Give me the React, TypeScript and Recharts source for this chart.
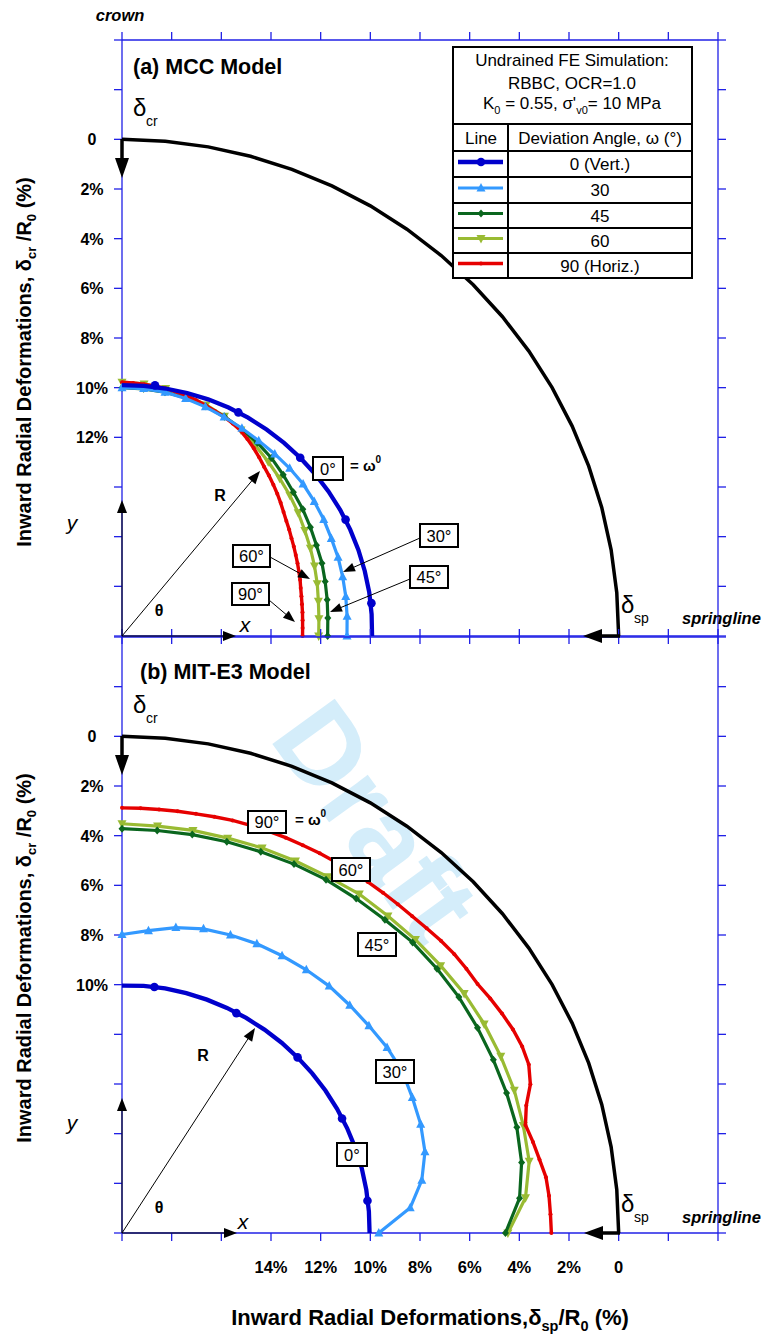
import React from "react"
import { ScatterChart, Scatter, XAxis, YAxis } from "recharts"

// angle round the tunnel quarter, degrees: 0 = springline, 90 = crown
const ANGLES = [0, 5, 10, 15, 20, 25, 30, 35, 40, 45, 50, 55, 60, 65, 70, 75, 80, 85, 90]
const ANGLES_FINE = [
  0, 2.5, 5, 7.5, 10, 12.5, 15, 17.5, 20, 22.5, 25, 27.5, 30, 32.5, 35, 37.5, 40, 42.5, 45,
  47.5, 50, 52.5, 55, 57.5, 60, 62.5, 65, 67.5, 70, 72.5, 75, 77.5, 80, 82.5, 85, 87.5, 90,
]
const MARK_ANGLES = [7.5, 27.5, 45, 62.5, 82.5]

// undeformed tunnel (inward deformation 0)
const UNDEFORMED = [0, 0, 0, 0, 0, 0, 0, 0, 0, 0, 0, 0, 0, 0, 0, 0, 0, 0, 0]

// (a) MCC model - inward radial deformation, % of R0
const MCC_W0 = [9.93, 9.91, 9.89, 9.88, 9.87, 9.86, 9.85, 9.85, 9.85, 9.85, 9.85, 9.85, 9.85, 9.85, 9.86, 9.87, 9.88, 9.89, 9.9]
const MCC_W0_MARKS = [9.87, 9.85, 9.85, 9.85, 9.82]
const MCC_W30 = [10.94, 10.9, 10.85, 10.8, 10.74, 10.7, 10.62, 10.55, 10.48, 10.45, 10.43, 10.4, 10.34, 10.27, 10.18, 10.1, 10.03, 10.0, 10.0]
const MCC_W45 = [11.72, 11.68, 11.61, 11.53, 11.43, 11.36, 11.24, 11.11, 10.99, 10.82, 10.64, 10.5, 10.37, 10.25, 10.15, 10.07, 10.03, 10.01, 10.0]
const MCC_W60 = [12.08, 12.04, 11.97, 11.86, 11.75, 11.63, 11.5, 11.34, 11.18, 11.02, 10.84, 10.63, 10.42, 10.24, 10.1, 9.97, 9.88, 9.81, 9.78]
const MCC_W90 = [
  12.73, 12.72, 12.7, 12.67, 12.64, 12.6, 12.55, 12.48, 12.42, 12.35, 12.28, 12.2, 12.12, 12.02,
  11.92, 11.8, 11.66, 11.52, 11.38, 11.24, 11.1, 10.93, 10.76, 10.6, 10.45, 10.35, 10.27, 10.2,
  10.12, 10.05, 9.98, 9.93, 9.88, 9.85, 9.82, 9.8, 9.78,
]

// (b) MIT-E3 model
const MIT_W0 = [10.03, 10.02, 10.01, 10.0, 10.0, 10.0, 10.0, 10.0, 10.0, 10.0, 10.0, 10.0, 10.0, 10.0, 10.0, 10.0, 10.0, 10.01, 10.04]
const MIT_W0_MARKS = [10.03, 10.01, 10.0, 10.02, 10.01]
const MIT_W30 = [9.66, 8.35, 7.74, 7.37, 7.2, 7.1, 6.97, 6.97, 7.02, 7.03, 7.02, 7.06, 7.11, 7.15, 7.23, 7.32, 7.51, 7.78, 7.98]
const MIT_W45 = [4.56, 3.93, 3.66, 3.54, 3.52, 3.5, 3.47, 3.44, 3.44, 3.45, 3.53, 3.56, 3.57, 3.61, 3.66, 3.69, 3.71, 3.73, 3.72]
const MIT_W60 = [4.46, 3.69, 3.35, 3.27, 3.19, 3.17, 3.16, 3.18, 3.25, 3.29, 3.34, 3.34, 3.43, 3.47, 3.5, 3.54, 3.54, 3.55, 3.52]
const MIT_W90 = [
  2.71, 2.73, 2.74, 2.78, 2.93, 3.05, 3.18, 2.93, 2.5, 2.27, 2.22, 2.25, 2.33, 2.42, 2.52, 2.52,
  2.53, 2.58, 2.65, 2.7, 2.72, 2.73, 2.74, 2.75, 2.76, 2.76, 2.77, 2.77, 2.78, 2.79, 2.8, 2.83,
  2.86, 2.87, 2.88, 2.88, 2.88,
]

const AXIS_TICKS = [-4, -2, 0, 2, 4, 6, 8, 10, 12, 14, 16, 18, 20]
const LEGEND_LABELS = ["0 (Vert.)", "30", "45", "60", "90 (Horiz.)"]

const R0 = 20 // tunnel radius in plot units (the 20 % tick)
const FONT = '"Liberation Sans", Arial, Helvetica, sans-serif'
const AX = "#2020e6"

type Kind = "circle" | "tri" | "diamond" | "triDown" | "dot" | "none"
const STYLES: { color: string; width: number; kind: Kind }[] = [
  { color: "#0000cc", width: 4.3, kind: "circle" },
  { color: "#3399ff", width: 3.2, kind: "tri" },
  { color: "#0a661e", width: 3.2, kind: "diamond" },
  { color: "#99bb33", width: 3.2, kind: "triDown" },
  { color: "#e60000", width: 3.4, kind: "dot" },
]

type Pt = { x: number; y: number; mk: boolean }

function toPoints(angles: number[], defl: number[], mk: boolean): Pt[] {
  return angles.map((a, i) => {
    const r = R0 - defl[i]
    const t = (a * Math.PI) / 180
    return { x: R0 - r * Math.cos(t), y: R0 - r * Math.sin(t), mk }
  })
}

function marker(kind: Kind, cx: number, cy: number, color: string) {
  switch (kind) {
    case "circle":
      return <circle cx={cx} cy={cy} r={4.3} fill={color} />
    case "tri":
      return <path d={`M${cx},${cy - 5}L${cx + 4.5},${cy + 3.5}L${cx - 4.5},${cy + 3.5}Z`} fill={color} />
    case "triDown":
      return <path d={`M${cx},${cy + 5}L${cx + 4.5},${cy - 3.5}L${cx - 4.5},${cy - 3.5}Z`} fill={color} />
    case "diamond":
      return <path d={`M${cx},${cy - 4}L${cx + 3.5},${cy}L${cx},${cy + 4}L${cx - 3.5},${cy}Z`} fill={color} />
    case "dot":
      return <circle cx={cx} cy={cy} r={2} fill={color} />
    default:
      return <g />
  }
}

type Curve = { pts: Pt[]; color: string; width: number; kind: Kind; line: boolean }

function buildCurves(w0: number[], w0m: number[], w30: number[], w45: number[], w60: number[], w90: number[]): Curve[] {
  const [s0, s30, s45, s60, s90] = STYLES
  return [
    { pts: toPoints(ANGLES, UNDEFORMED, false), color: "#000", width: 3.5, kind: "none", line: true },
    { pts: toPoints(ANGLES, w60, true), ...s60, line: true },
    { pts: toPoints(ANGLES, w45, true), ...s45, line: true },
    { pts: toPoints(ANGLES_FINE, w90, true), ...s90, line: true },
    { pts: toPoints(ANGLES, w30, true), ...s30, line: true },
    { pts: toPoints(ANGLES, w0, false), ...s0, line: true },
    { pts: toPoints(MARK_ANGLES, w0m, true), ...s0, line: false },
  ]
}

const noTick = () => <g />

const leftTick = (max: number) => (p: any) => {
  const v = p.payload.value
  if (v < 0 || v > max) return <g />
  return (
    <text x={92} y={p.y + 6} textAnchor="middle" fontFamily={FONT} fontWeight="bold" fontSize={16} fill="#000">
      {v === 0 ? "0" : `${v}%`}
    </text>
  )
}

const bottomTick = (show: boolean) => (p: any) => {
  const v = p.payload.value
  if (!show || v < 0 || v > 14) return <g />
  return (
    <text x={p.x} y={p.y + 32} textAnchor="middle" fontFamily={FONT} fontWeight="bold" fontSize={16.5} fill="#000">
      {v === 0 ? "0" : `${v}%`}
    </text>
  )
}

function Panel({ top, height, mTop, mBottom, curves, maxLeft, bottomLabels }: {
  top: number; height: number; mTop: number; mBottom: number; curves: Curve[]; maxLeft: number; bottomLabels: boolean
}) {
  const axisProps = {
    type: "number" as const,
    domain: [-4, 20],
    reversed: true,
    ticks: AXIS_TICKS,
    interval: 0 as const,
    axisLine: { stroke: AX, strokeWidth: 1.3 },
    tickLine: { stroke: AX, strokeWidth: 1.3 },
    tickSize: 8,
    tickMargin: 0,
  }
  return (
    <div style={{ position: "absolute", left: 0, top }}>
      <ScatterChart width={766} height={height} margin={{ top: mTop, right: 38, bottom: mBottom, left: 112 }}>
        <XAxis xAxisId="b" dataKey="x" orientation="bottom" height={10} {...axisProps} tick={bottomTick(bottomLabels)} />
        <XAxis xAxisId="t" dataKey="x" orientation="top" height={10} {...axisProps} tick={noTick} />
        <YAxis yAxisId="l" dataKey="y" orientation="left" width={10} {...axisProps} tick={leftTick(maxLeft)} />
        <YAxis yAxisId="r" dataKey="y" orientation="right" width={10} {...axisProps} tick={noTick} />
        {/* invisible copy of the outline so the top / right frame axes get their ticks */}
        <Scatter data={curves[0].pts} xAxisId="t" yAxisId="r" fill="none" shape={noTick} isAnimationActive={false} />
        {curves.map((c, i) => (
          <Scatter
            key={i}
            data={c.pts}
            xAxisId="b"
            yAxisId="l"
            fill={c.color}
            line={c.line ? { stroke: c.color, strokeWidth: c.width } : false}
            shape={(p: any) => (p.payload && p.payload.mk ? marker(c.kind, p.cx, p.cy, c.color) : <g />)}
            isAnimationActive={false}
          />
        ))}
      </ScatterChart>
    </div>
  )
}

function Arrow({ x1, y1, x2, y2, w = 1, head = 12, hw = 4.5 }: {
  x1: number; y1: number; x2: number; y2: number; w?: number; head?: number; hw?: number
}) {
  const L = Math.hypot(x2 - x1, y2 - y1)
  const ux = (x2 - x1) / L
  const uy = (y2 - y1) / L
  const bx = x2 - ux * head
  const by = y2 - uy * head
  return (
    <g>
      <line x1={x1} y1={y1} x2={bx + ux} y2={by + uy} stroke="#000" strokeWidth={w} />
      <polygon points={`${x2},${y2} ${bx - uy * hw},${by + ux * hw} ${bx + uy * hw},${by - ux * hw}`} fill="#000" />
    </g>
  )
}

function Tag({ x, y, w, h, text }: { x: number; y: number; w: number; h: number; text: string }) {
  return (
    <g>
      <rect x={x} y={y} width={w} height={h} fill="#fff" stroke="#000" strokeWidth={2} />
      <text x={x + w / 2} y={y + h / 2 + 6} textAnchor="middle" fontSize={16.5} fill="#000">{text}</text>
    </g>
  )
}

function Omega({ x, y }: { x: number; y: number }) {
  return (
    <text x={x} y={y} fontSize={15} fontWeight="bold">
      {"= ω"}
      <tspan dy={-8} fontSize={10}>0</tspan>
    </text>
  )
}

function Delta({ x, y, sub }: { x: number; y: number; sub: string }) {
  return (
    <g>
      <text x={x} y={y} fontSize={24}>δ</text>
      <text x={x + 13} y={y + 10} fontSize={14}>{sub}</text>
    </g>
  )
}

function YTitle({ cy }: { cy: number }) {
  return (
    <text x={31} y={cy} transform={`rotate(-90 31 ${cy})`} textAnchor="middle" fontSize={20} fontWeight="bold">
      {"Inward Radial Deformations, δ"}
      <tspan dy={5} fontSize={13}>cr</tspan>
      <tspan dy={-5}>{" /R"}</tspan>
      <tspan dy={5} fontSize={13}>0</tspan>
      <tspan dy={-5}>{" (%)"}</tspan>
    </text>
  )
}

function Geometry({ oy, rTip, yTip, xTip, rLab, thLab, yLab, xLab }: {
  oy: number; rTip: [number, number]; yTip: number; xTip: number
  rLab: [number, number]; thLab: [number, number]; yLab: [number, number]; xLab: [number, number]
}) {
  return (
    <g>
      <Arrow x1={122} y1={oy} x2={rTip[0]} y2={rTip[1]} head={13} hw={5} />
      <Arrow x1={122} y1={oy} x2={122} y2={yTip} head={13} hw={5} />
      <Arrow x1={122} y1={oy} x2={xTip} y2={oy} head={13} hw={5} />
      <text x={rLab[0]} y={rLab[1]} textAnchor="middle" fontSize={16} fontWeight="bold">R</text>
      <text x={thLab[0]} y={thLab[1]} textAnchor="middle" fontSize={16} fontWeight="bold">θ</text>
      <text x={yLab[0]} y={yLab[1]} textAnchor="middle" fontSize={21} fontStyle="italic">y</text>
      <text x={xLab[0]} y={xLab[1]} textAnchor="middle" fontSize={21} fontStyle="italic">x</text>
    </g>
  )
}

function LegendTable() {
  const rowTop = [151, 177, 203, 228, 253]
  return (
    <g>
      <rect x={453} y={47} width={239} height={231} fill="#fff" stroke="#000" strokeWidth={2} />
      <line x1={453} y1={124} x2={692} y2={124} stroke="#000" strokeWidth={2} />
      <line x1={508} y1={124} x2={508} y2={278} stroke="#000" strokeWidth={2} />
      {rowTop.map((y) => (
        <line key={y} x1={453} y1={y} x2={692} y2={y} stroke="#000" strokeWidth={2} />
      ))}
      <text x={572} y={66} textAnchor="middle" fontSize={17}>Undrained FE Simulation:</text>
      <text x={572} y={89} textAnchor="middle" fontSize={17}>RBBC, OCR=1.0</text>
      <text x={572} y={109} textAnchor="middle" fontSize={17}>
        K<tspan dy={5} fontSize={11}>0</tspan>
        <tspan dy={-5}>{" = 0.55, σ'"}</tspan>
        <tspan dy={5} fontSize={11}>v0</tspan>
        <tspan dy={-5}>{"= 10 MPa"}</tspan>
      </text>
      <text x={481} y={144} textAnchor="middle" fontSize={17}>Line</text>
      <text x={600} y={144} textAnchor="middle" fontSize={17}>Deviation Angle, ω (°)</text>
      {STYLES.map((s, i) => {
        const top = rowTop[i]
        const bottom = i === 4 ? 278 : rowTop[i + 1]
        const ly = top + (bottom - top) / 2 - 2
        return (
          <g key={i}>
            <line x1={458} y1={ly} x2={503} y2={ly} stroke={s.color} strokeWidth={s.width} />
            {marker(s.kind, 481, ly, s.color)}
            <text x={600} y={top + (bottom - top) / 2 + 6} textAnchor="middle" fontSize={17}>
              {LEGEND_LABELS[i]}
            </text>
          </g>
        )
      })}
    </g>
  )
}

export default function App() {
  const curvesA = buildCurves(MCC_W0, MCC_W0_MARKS, MCC_W30, MCC_W45, MCC_W60, MCC_W90)
  const curvesB = buildCurves(MIT_W0, MIT_W0_MARKS, MIT_W30, MIT_W45, MIT_W60, MIT_W90)

  return (
    <div style={{ position: "absolute", left: 0, top: 0, width: 766, height: 1338, background: "#fff", fontFamily: FONT, overflow: "hidden" }}>
      {/* watermark behind the curves */}
      <svg width={766} height={1338} style={{ position: "absolute", left: 0, top: 0 }}>
        <text x={0} y={0} transform="translate(268 738) rotate(54)" fontFamily={FONT} fontSize={112} fontWeight="bold" fill="#d4edfa">
          Draft
        </text>
      </svg>

      <Panel top={0} height={680} mTop={30} mBottom={34} curves={curvesA} maxLeft={12} bottomLabels={false} />
      <Panel top={600} height={738} mTop={27} mBottom={95} curves={curvesB} maxLeft={10} bottomLabels={true} />

      <svg width={766} height={1338} style={{ position: "absolute", left: 0, top: 0, pointerEvents: "none" }} fontFamily={FONT} fill="#000">
        <text x={120} y={21} textAnchor="middle" fontSize={16.5} fontWeight="bold" fontStyle="italic">crown</text>
        <text x={133} y={74} fontSize={21.5} fontWeight="bold">(a) MCC Model</text>
        <text x={140} y={679} fontSize={21.5} fontWeight="bold">(b) MIT-E3 Model</text>

        <Delta x={133} y={116} sub="cr" />
        <Delta x={133} y={713} sub="cr" />
        <Delta x={621} y={613} sub="sp" />
        <Delta x={621} y={1212} sub="sp" />
        <text x={682} y={624} fontSize={16.5} fontWeight="bold" fontStyle="italic">springline</text>
        <text x={682} y={1223} fontSize={16.5} fontWeight="bold" fontStyle="italic">springline</text>

        {/* crown and springline deformation arrows */}
        <Arrow x1={122} y1={139} x2={122} y2={178} w={3.5} head={20} hw={7} />
        <Arrow x1={122} y1={736} x2={122} y2={775} w={3.5} head={20} hw={7} />
        <Arrow x1={620} y1={636} x2={583} y2={636} w={3.5} head={19} hw={7} />
        <Arrow x1={620} y1={1233} x2={584} y2={1233} w={3.5} head={19} hw={7} />

        <Geometry oy={636} rTip={[260, 471]} yTip={500} xTip={236} rLab={[220, 501]} thLab={[159, 616]} yLab={[72, 530]} xLab={[245, 632]} />
        <Geometry oy={1233} rTip={[255, 1028]} yTip={1098} xTip={237} rLab={[203, 1061]} thLab={[159, 1213]} yLab={[72, 1130]} xLab={[243, 1229]} />

        {/* panel (a) labels */}
        <Tag x={313} y={457} w={30} h={23} text="0°" />
        <Omega x={350} y={471} />
        <Arrow x1={420} y1={538} x2={343} y2={572} />
        <Tag x={420} y={524} w={38} h={23} text="30°" />
        <Arrow x1={410} y1={579} x2={330} y2={612} />
        <Tag x={410} y={566} w={38} h={22} text="45°" />
        <Arrow x1={270} y1={557} x2={310} y2={579} />
        <Tag x={233} y={545} w={37} h={22} text="60°" />
        <Arrow x1={269} y1={600} x2={295} y2={622} />
        <Tag x={232} y={583} w={37} h={22} text="90°" />

        {/* panel (b) labels */}
        <Tag x={248} y={811} w={38} h={22} text="90°" />
        <Omega x={295} y={825} />
        <Tag x={332} y={858} w={38} h={23} text="60°" />
        <Tag x={358} y={933} w={38} h={23} text="45°" />
        <Tag x={376} y={1060} w={38} h={23} text="30°" />
        <Tag x={337} y={1143} w={30} h={23} text="0°" />

        <LegendTable />

        <YTitle cy={362} />
        <YTitle cy={958} />
        <text x={430} y={1325} textAnchor="middle" fontSize={22} fontWeight="bold">
          {"Inward Radial Deformations,δ"}
          <tspan dy={6} fontSize={14.5}>sp</tspan>
          <tspan dy={-6}>/R</tspan>
          <tspan dy={6} fontSize={14.5}>0</tspan>
          <tspan dy={-6}>{" (%)"}</tspan>
        </text>
      </svg>
    </div>
  )
}
